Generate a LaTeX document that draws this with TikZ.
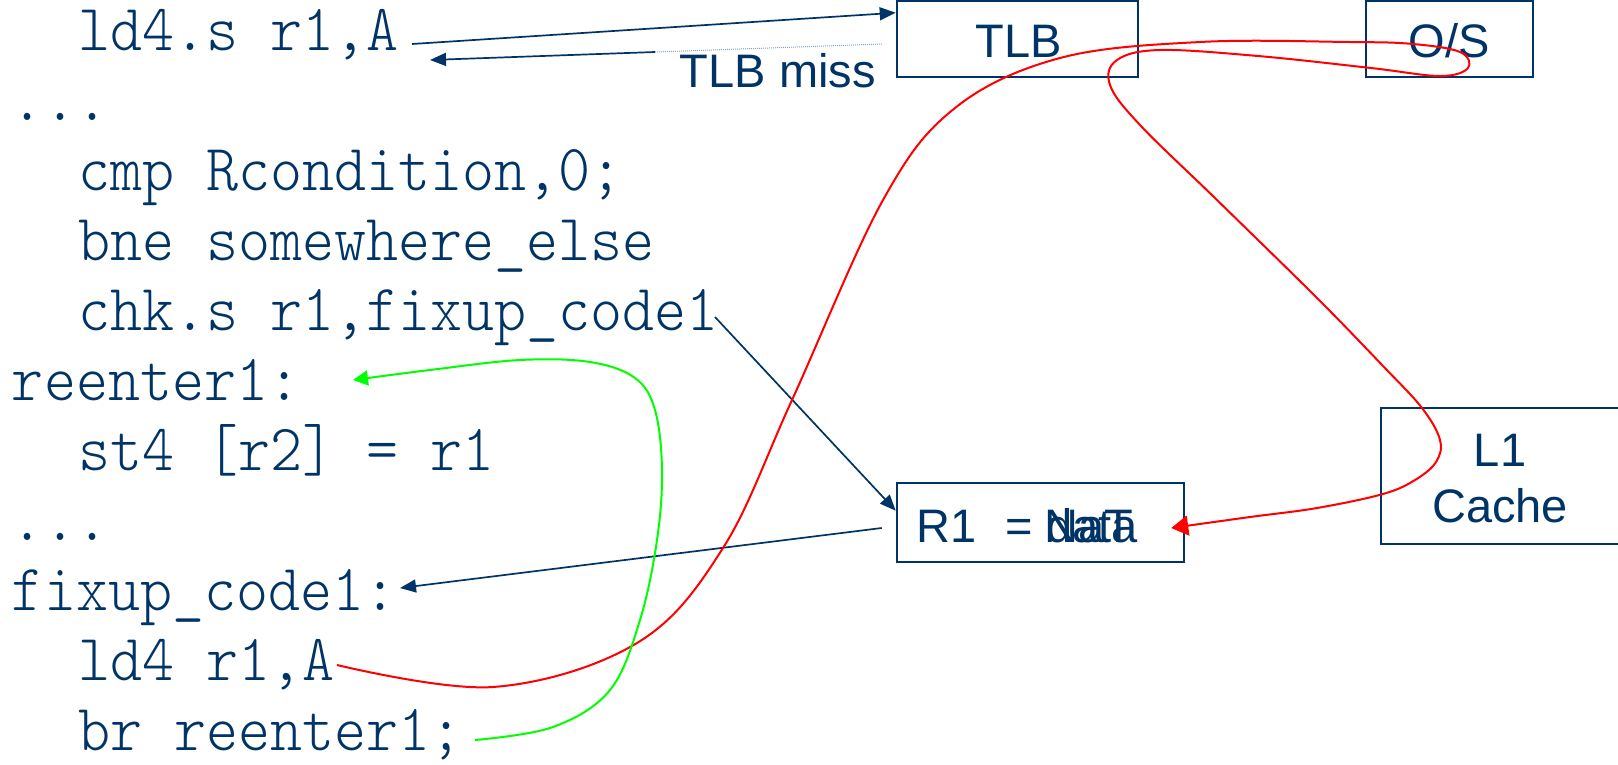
\documentclass[tikz,border=0pt]{standalone}
\usepackage{fontspec}
\setmainfont{Liberation Sans}
\newfontfamily\codefont{Latin Modern Mono Light}[FakeStretch=0.924]
\usetikzlibrary{arrows.meta,calc}
\definecolor{navy}{RGB}{0,51,102}
\definecolor{brightgreen}{RGB}{0,255,0}
\definecolor{brightred}{RGB}{255,0,0}
\begin{document}
\begin{tikzpicture}[x=1pt,y=-1pt,
  code/.style={anchor=base west,inner sep=0pt,outer sep=0pt,text=navy,font=\codefont\fontsize{66}{70}\selectfont},
  lbl/.style={inner sep=0pt,text=navy,font=\fontsize{47}{52}\selectfont},
  box/.style={draw=navy,line width=2.5pt,inner sep=0pt},
  conn/.style={draw=navy,line width=1.7pt,-{Triangle[length=16pt,width=13pt]}},
  redc/.style={draw=brightred,line width=2pt,-{Triangle[length=17pt,width=20pt]}},
  greenc/.style={draw=brightgreen,line width=2pt,-{Triangle[length=15pt,width=15pt]}}]
\useasboundingbox (0,0) rectangle (1618,764);
% code lines
\node[code] (c0) at (78,50) {ld4.s r1,A};
\node[code] (c1) at (12,120) {...};
\node[code] (c2) at (78,190) {cmp Rcondition,0;};
\node[code] (c3) at (78,260) {bne somewhere\_else};
\node[code] (c4) at (78,330) {chk.s r1,fixup\_code1};
\node[code] (c5) at (12,400) {reenter1:};
\node[code] (c6) at (78,470) {st4 [r2] = r1};
\node[code] (c7) at (12,540) {...};
\node[code] (c8) at (12,610) {fixup\_code1:};
\node[code] (c9) at (78,680) {ld4 r1,A};
\node[code] (c10) at (78,750) {br reenter1;};
% boxes
\node[box,minimum width=241pt,minimum height=76pt] (tlb) at (1017.5,39) {};
\node[box,minimum width=167pt,minimum height=76pt] (os) at (1449.5,39) {};
\node[box,minimum width=240pt,minimum height=136pt] (l1) at (1501,476) {};
\node[box,minimum width=287pt,minimum height=79pt] (r1) at (1040.5,522.5) {};
% labels
\node[lbl,anchor=base] (tlbt) at (1019,57) {TLB};
\node[lbl,anchor=base] (ost) at (1449,57) {O/S};
\node[lbl,anchor=base] (l1t) at (1500,466) {L1};
\node[lbl,anchor=base] (cachet) at (1500,522) {Cache};
\node[lbl,anchor=base east] (miss) at (876,87) {TLB miss};
\node[lbl,anchor=base west] (r1a) at (916,542) {R1};
\node[lbl,anchor=base west] (r1b) at (1005,542) {=};
\node[lbl,anchor=base west] (r1c) at (1046,542) {data};
\node[lbl,anchor=base west] (r1d) at (1044,542) {NaT};
% connector end points
\coordinate (a1s) at (412,44);
\coordinate (ms) at (882,44);
\coordinate (mm) at (655,52);
\coordinate (me) at (430,60);
\coordinate (ks) at (715,317);
\coordinate (bs) at ($(r1.west)+(-14,5.5)$);
\coordinate (be) at (400,588);
\coordinate (rs) at (337,665);
\coordinate (re) at ($(r1.east)+(-14,5.5)$);
\coordinate (gs) at (475,740);
\coordinate (ge) at (353,380);
% navy connectors
\draw[conn] (a1s) -- ($(tlb.north west)+(0,13)$);
\draw[navy!45,line width=1pt,densely dotted] (ms) -- (mm);
\draw[conn] (mm) -- (me);
\draw[conn] (ks) -- ($(r1.north west)+(0,29)$);
\draw[conn] (bs) -- (be);
% red curve
\draw[redc] plot[smooth,tension=0.6] coordinates {(rs) (493,687) (637,643) (723,548) (792,400) (883,200) (955,108) (1060,58) (1200,42) (1350,42) (1413,44) (1460,52) (1468,68) (1440,76) (1371,68) (1258,56) (1160,50) (1117,60) (1110,85) (1140,125) (1217,200) (1317,298) (1383,366) (1422,408) (1440,440) (1436,462) (1415,480) (1383,494) (1317,508) (1250,517) (re)};
% green curve
\draw[greenc] plot[smooth,tension=0.6] coordinates {(gs) (553,727) (610,690) (640,620) (657,540) (662,470) (655,410) (635,378) (590,362) (520,360) (430,370) (ge)};
\end{tikzpicture}
\end{document}
